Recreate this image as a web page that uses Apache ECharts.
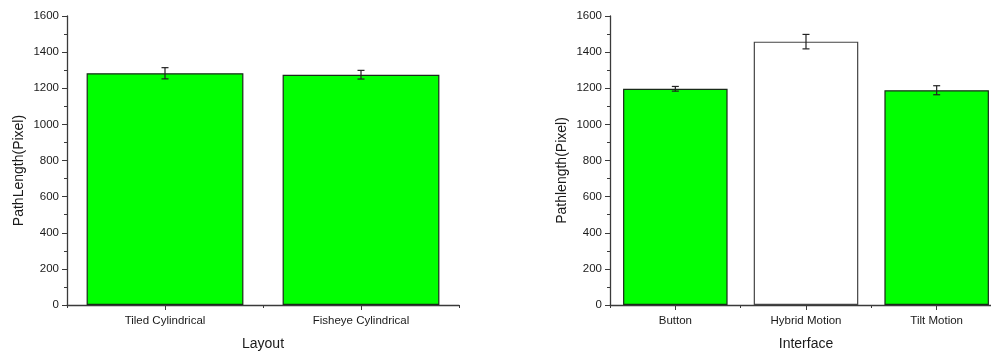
<!DOCTYPE html>
<html>
<head>
<meta charset="utf-8">
<script src="https://cdn.jsdelivr.net/npm/echarts@6/dist/echarts.min.js"></script>
<style>
  html, body { margin: 0; padding: 0; background: #fff; }
  #chart { width: 991px; height: 351px; }
</style>
</head>
<body>
<div id="chart"></div>
<script>
// Path length by layout (left panel)
const layoutCategories = ['Tiled Cylindrical', 'Fisheye Cylindrical'];
const layoutMeans = [1283, 1275];
const layoutErrors = [31, 24];

// Path length by interface (right panel)
const interfaceCategories = ['Button', 'Hybrid Motion', 'Tilt Motion'];
const interfaceMeans = [1197, 1458, 1189];
const interfaceErrors = [13, 40, 25];
const interfaceFills = ['#00ff00', '#ffffff', '#00ff00'];
const interfaceBorders = ['#1a2a1a', '#444444', '#1a2a1a'];

const yTicks = { min: 0, max: 1600, interval: 200 };

const FONT = 'Liberation Sans, Arial, sans-serif';
const AXIS_COLOR = '#3a3a3a';
const TEXT_COLOR = '#1a1a1a';

function valueAxis(gridIndex, name) {
  return {
    type: 'value', gridIndex: gridIndex,
    min: yTicks.min, max: yTicks.max, interval: yTicks.interval,
    name: name, nameLocation: 'middle', nameGap: 41,
    nameTextStyle: { fontFamily: FONT, fontSize: 14, color: TEXT_COLOR, padding: [0, 20, 0, 0] },
    axisLine: { show: true, lineStyle: { color: AXIS_COLOR, width: 1.3 } },
    axisTick: { show: true, length: 5, lineStyle: { color: AXIS_COLOR } },
    minorTick: { show: true, splitNumber: 2, length: 3, lineStyle: { color: AXIS_COLOR } },
    axisLabel: { fontFamily: FONT, fontSize: 11.5, color: TEXT_COLOR, margin: 8,
                 formatter: v => String(v) },
    splitLine: { show: false }
  };
}

function categoryAxes(gridIndex, cats, name) {
  return [
    {
      type: 'category', gridIndex: gridIndex, data: cats,
      name: name, nameLocation: 'middle', nameGap: 32,
      nameTextStyle: { fontFamily: FONT, fontSize: 14, color: TEXT_COLOR },
      axisLine: { show: true, lineStyle: { color: AXIS_COLOR, width: 1.3 } },
      axisTick: { show: true, alignWithLabel: true, length: 5, lineStyle: { color: AXIS_COLOR } },
      axisLabel: { fontFamily: FONT, fontSize: 11.5, color: TEXT_COLOR, margin: 10 },
      splitLine: { show: false }
    },
    {
      // boundary ticks between categories
      type: 'category', gridIndex: gridIndex, data: cats, position: 'bottom',
      axisLine: { show: false },
      axisTick: { show: true, length: 3, lineStyle: { color: AXIS_COLOR } },
      axisLabel: { show: false },
      splitLine: { show: false }
    }
  ];
}

function errorSeries(xAxisIndex, yAxisIndex, means, errs) {
  return {
    type: 'custom', xAxisIndex: xAxisIndex, yAxisIndex: yAxisIndex, z: 5,
    data: means.map((m, i) => [i, m, errs[i]]),
    renderItem: function (params, api) {
      const i = api.value(0), m = api.value(1), e = api.value(2);
      const top = api.coord([i, m + e]);
      const bot = api.coord([i, m - e]);
      const half = 3.5;
      const style = { stroke: '#222', lineWidth: 1.2 };
      return {
        type: 'group',
        children: [
          { type: 'line', shape: { x1: top[0], y1: top[1], x2: bot[0], y2: bot[1] }, style: style },
          { type: 'line', shape: { x1: top[0] - half, y1: top[1], x2: top[0] + half, y2: top[1] }, style: style },
          { type: 'line', shape: { x1: bot[0] - half, y1: bot[1], x2: bot[0] + half, y2: bot[1] }, style: style }
        ]
      };
    }
  };
}

const chart = echarts.init(document.getElementById('chart'), null, { renderer: 'canvas' });
chart.setOption({
  animation: false,
  backgroundColor: '#ffffff',
  grid: [
    { left: 67, width: 392, top: 16, bottom: 46, outerBoundsMode: 'none', containLabel: false },
    { left: 610, width: 392, top: 16, bottom: 46, outerBoundsMode: 'none', containLabel: false }
  ],
  xAxis: [
    ...categoryAxes(0, layoutCategories, 'Layout'),
    ...categoryAxes(1, interfaceCategories, 'Interface')
  ],
  yAxis: [
    valueAxis(0, 'PathLength(Pixel)'),
    valueAxis(1, 'Pathlength(Pixel)')
  ],
  series: [
    {
      type: 'bar', xAxisIndex: 0, yAxisIndex: 0, barWidth: '80%',
      data: layoutMeans,
      itemStyle: { color: '#00ff00', borderColor: '#1a2a1a', borderWidth: 1.2 }
    },
    errorSeries(0, 0, layoutMeans, layoutErrors),
    {
      type: 'bar', xAxisIndex: 2, yAxisIndex: 1, barWidth: '80%',
      data: interfaceMeans.map((v, i) => ({
        value: v,
        itemStyle: { color: interfaceFills[i], borderColor: interfaceBorders[i], borderWidth: 1.2 }
      }))
    },
    errorSeries(2, 1, interfaceMeans, interfaceErrors)
  ]
});
</script>
</body>
</html>
